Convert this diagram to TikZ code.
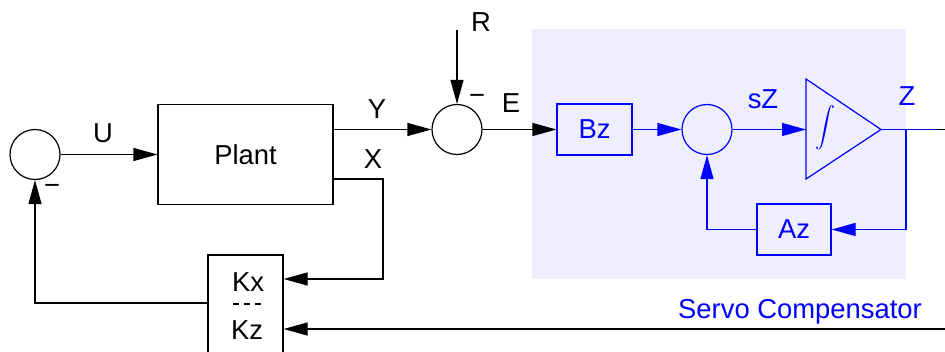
\documentclass[tikz,border=0pt]{standalone}
\usepackage{fontspec}
\setmainfont{Liberation Sans}
\definecolor{servoblue}{RGB}{0,0,255}
\definecolor{servobg}{RGB}{238,238,255}
\usetikzlibrary{arrows.meta,positioning,calc}

\begin{document}
\begin{tikzpicture}[x=0.5pt, y=-0.5pt, line width=0.6pt,
    font=\fontsize{13.7}{16}\selectfont,
    >={Triangle[length=12pt,width=6.5pt]},
    block/.style={draw, rectangle, inner sep=0pt},
    sumnode/.style={draw, circle, minimum size=25pt, inner sep=0pt},
    lbl/.style={anchor=base, inner sep=0pt}]
    \clip (0,0) rectangle (945,352);

    % Servo compensator area
    \fill[servobg] (532,29) rectangle (906,279);

    % Plant loop
    \node[sumnode] (sumU) at (35,154.5) {};
    \node[block, minimum width=87.5pt, minimum height=50pt] (plant) at (245.5,154.5) {Plant};
    \node[sumnode] (sumE) at (457,129.5) {};
    \node[block, minimum width=37.5pt, minimum height=60pt] (gain) at (245.5,315) {};
    \node[lbl] (kx) at (248,291) {Kx};
    \node[lbl] (kz) at (247,339) {Kz};
    \draw[dash pattern=on 3pt off 2.5pt] (233,304) -- (261,304);

    \coordinate (xout) at (333,179);
    \coordinate (rin) at (457,30);
    \coordinate (zin) at (945,329);

    \draw[->] (sumU) -- (plant);
    \draw[->] (plant.east |- sumE) -- (sumE);
    \draw[->] (xout) -| (383,279) -- (gain.east |- 0,279);
    \draw[->] (gain.west |- 0,303) -| (sumU.south);
    \draw[->] (rin) -- (sumE.north);
    \draw[->] (zin) -- (gain.east |- zin);

    % Labels
    \node[lbl] (lblU) at (103,143) {U};
    \node[lbl] (lblY) at (377,119) {Y};
    \node[lbl] (lblX) at (373,169) {X};
    \node[lbl] (lblE) at (511,113) {E};
    \node[lbl] (lblR) at (481,32) {R};
    \node (minU) at (52,189) {−};
    \node (minR) at (477,99) {−};

    % Servo compensator
    \begin{scope}[servoblue]
        \node[block, minimum width=37.5pt, minimum height=25.5pt] (bz) at (594.5,129.5) {Bz};
        \node[sumnode] (sumZ) at (707,129.5) {};
        \node[block, minimum width=37pt, minimum height=25.5pt] (az) at (794,229.5) {Az};
        \coordinate (intin) at (806,129.5);
        \coordinate (intout) at (881,129.5);
        \draw (806,79) -- (intout) -- (806,179) -- cycle;
        \node (integ) at (825,128) {$\displaystyle\int$};

        \draw[->] (bz) -- (sumZ);
        \draw[->] (sumZ) -- (intin);
        \draw (intout) -- (935,129.5);
        \draw[->] (906,129.5) |- (az);
        \draw[->] (az) -| (sumZ);

        \node[lbl] (lblsZ) at (763,109) {sZ};
        \node[lbl] (lblZ) at (907,106) {Z};
        \node[lbl] (servo) at (800,318) {Servo Compensator};
    \end{scope}
    \draw (935,129.5) -- (945,129.5);
    \draw[->] (sumE) -- (bz);
\end{tikzpicture}
\end{document}
